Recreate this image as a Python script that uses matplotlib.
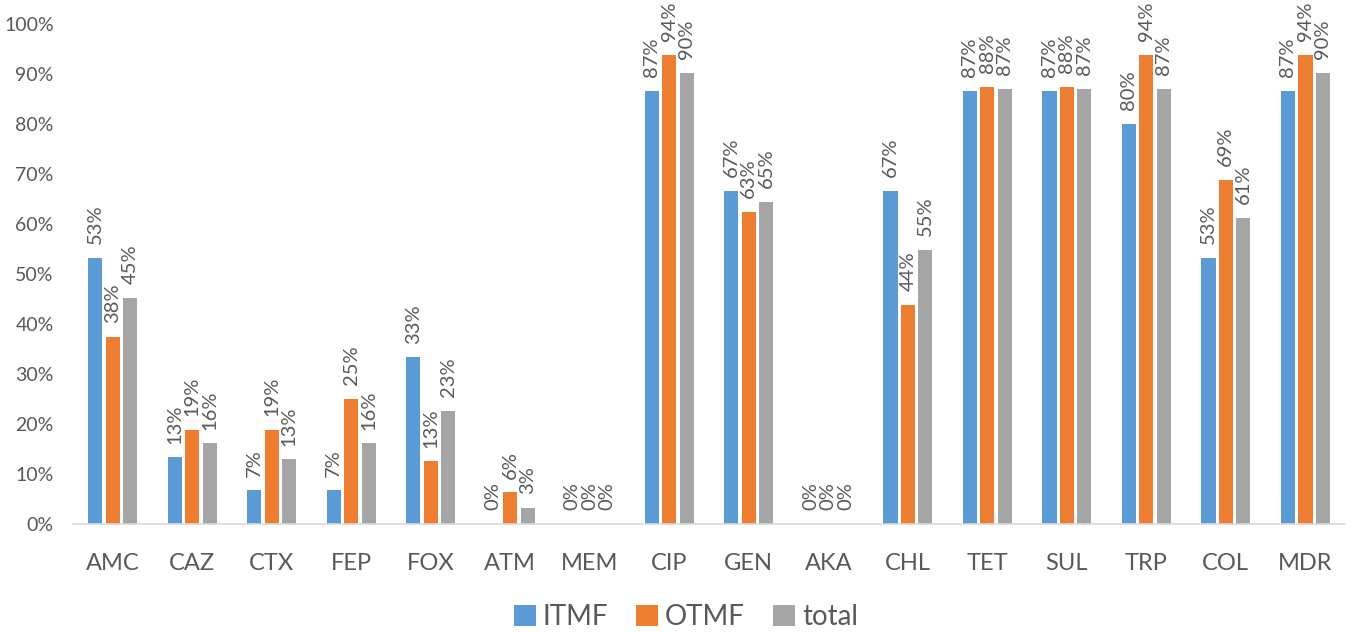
import numpy as np
import matplotlib.pyplot as plt
from matplotlib.ticker import FuncFormatter

# resistance rates (%) per antibiotic
categories = ["AMC", "CAZ", "CTX", "FEP", "FOX", "ATM", "MEM", "CIP",
              "GEN", "AKA", "CHL", "TET", "SUL", "TRP", "COL", "MDR"]
itmf = [53.3, 13.3, 6.7, 6.7, 33.3, 0, 0, 86.7, 66.7, 0, 66.7, 86.7, 86.7, 80.0, 53.3, 86.7]
otmf = [37.5, 18.8, 18.8, 25.0, 12.5, 6.3, 0, 93.8, 62.5, 0, 43.8, 87.5, 87.5, 93.8, 68.8, 93.8]
total = [45.2, 16.1, 12.9, 16.1, 22.6, 3.2, 0, 90.3, 64.5, 0, 54.8, 87.1, 87.1, 87.1, 61.3, 90.3]

series = [("ITMF", itmf, "#5B9BD5"), ("OTMF", otmf, "#ED7D31"), ("total", total, "#A5A5A5")]

plt.rcParams['font.family'] = ['Lato', 'DejaVu Sans']
txt = "#595959"

fig = plt.figure(figsize=(13.58, 6.32), dpi=100)
ax = fig.add_axes([0.0538, 0.1709, 0.9367, 0.7911])

x = np.arange(len(categories))
step = 0.22
for i, (name, vals, col) in enumerate(series):
    pos = x + (i - 1) * step
    ax.bar(pos, vals, width=0.18, color=col, label=name, zorder=2)
    for px, v in zip(pos, vals):
        ax.annotate(f"{int(np.floor(v + 0.5))}%", (px, v), xytext=(0, 10),
                    textcoords="offset points", rotation=90, ha="center",
                    va="bottom", fontsize=14.5, color=txt)

ax.set_xlim(-0.5, len(categories) - 0.5)
ax.set_ylim(0, 100)
ax.set_yticks(np.arange(0, 101, 10))
ax.yaxis.set_major_formatter(FuncFormatter(lambda v, p: f"{v:.0f}%"))
ax.set_xticks(x)
ax.set_xticklabels(categories)
ax.tick_params(axis="y", length=0, pad=14, labelsize=14, labelcolor=txt)
ax.tick_params(axis="x", length=0, pad=21, labelsize=17, labelcolor=txt)
for s in ("top", "right", "left"):
    ax.spines[s].set_visible(False)
ax.spines["bottom"].set_color("#D9D9D9")
ax.spines["bottom"].set_linewidth(1.2)

leg = fig.legend(loc="center", bbox_to_anchor=(0.505, 0.023), ncol=3, frameon=False,
                 fontsize=20, handlelength=0.8, handleheight=0.8,
                 handletextpad=0.25, columnspacing=1.0)
for t in leg.get_texts():
    t.set_color(txt)

fig.savefig("out.png", dpi=100)
